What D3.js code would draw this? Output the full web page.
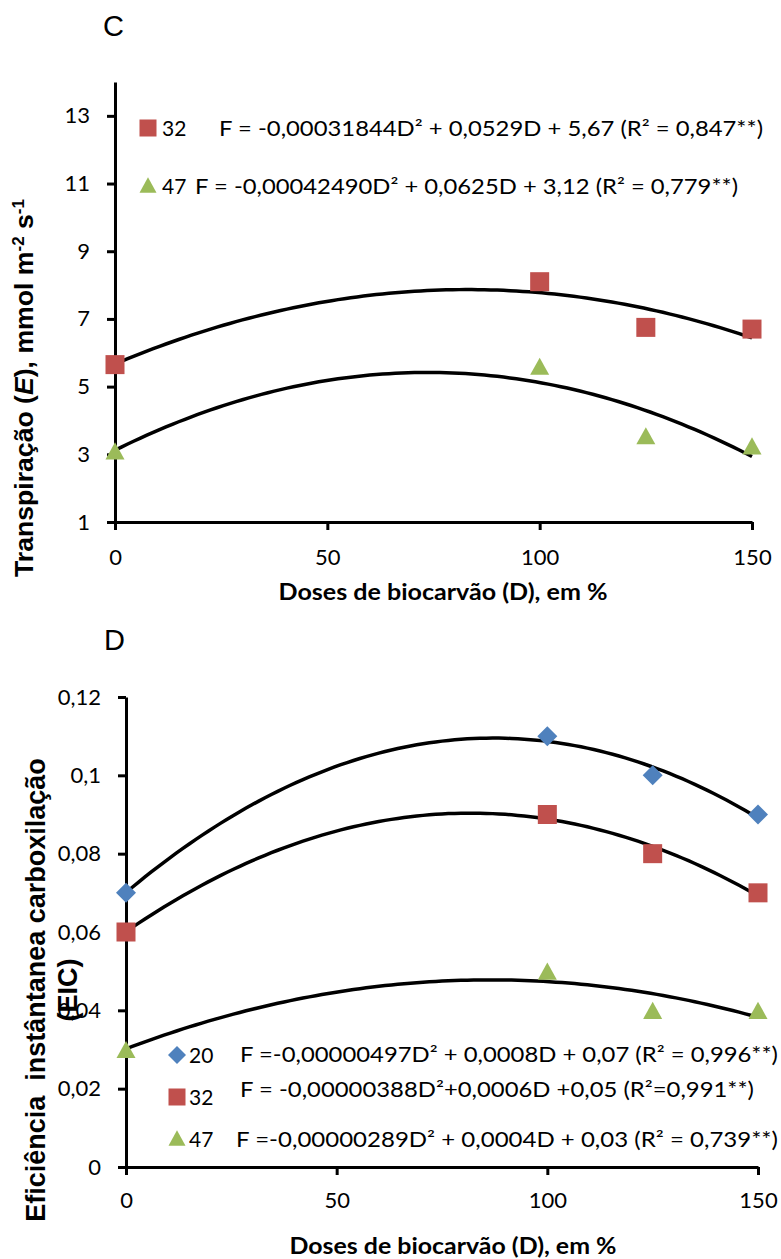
<!DOCTYPE html>
<meta charset="utf-8">
<style>
body { margin: 0; background: #fff; }
svg { display: block; }
.axis path, .axis line { stroke: #000; stroke-width: 3px; }
.axis text { font-family: Lato, sans-serif; font-size: 22px; fill: #000; }
.legend text { font-family: Lato, sans-serif; font-size: 21px; fill: #000; }
.xtitle { font-family: Lato, sans-serif; font-size: 23px; font-weight: bold; }
.ytitle { font-family: "Liberation Sans", Arial, sans-serif; font-size: 25px; font-weight: bold; white-space: pre; }
.panel { font-family: "Liberation Sans", Arial, sans-serif; font-size: 29px; }
.fit { fill: none; stroke: #000; stroke-width: 3.5px; }
</style>
<svg width="781" height="1259"></svg>
<script src="https://d3js.org/d3.v7.min.js"></script>
<script>

// biochar doses (%)
var doses = [0, 100, 125, 150];
var xTicks = [0, 50, 100, 150];

// panel C - transpiration (E)
var transp32 = [5.65, 8.1, 6.75, 6.7];
var transp47 = [3.1, 5.6, 3.55, 3.25];
var coefC32 = [5.67, 0.0529, -0.00031844];
var coefC47 = [3.12, 0.0625, -0.00042490];
var ticksC = [1, 3, 5, 7, 9, 11, 13];
var legendC = ["32", "47"];
var formulaC = [
  "F = -0,00031844D² + 0,0529D + 5,67 (R² = 0,847**)",
  "F = -0,00042490D² + 0,0625D + 3,12 (R² = 0,779**)"
];

// panel D - instantaneous carboxylation efficiency (EIC)
var eic20 = [0.07, 0.11, 0.10, 0.09];
var eic32 = [0.06, 0.09, 0.08, 0.07];
var eic47 = [0.03, 0.05, 0.04, 0.04];
var ticksD = [0, 0.02, 0.04, 0.06, 0.08, 0.1, 0.12];
var legendD = ["20", "32", "47"];
var formulaD = [
  "F =-0,00000497D² + 0,0008D + 0,07 (R² = 0,996**)",
  "F = -0,00000388D²+0,0006D +0,05 (R²=0,991**)",
  "F =-0,00000289D² + 0,0004D + 0,03 (R² = 0,739**)"
];

var colors = { "20": "#4F81BD", "32": "#C0504D", "47": "#9BBB59" };

var svg = d3.select("svg");

// marker shapes, centred on their bounding box
function marker(g, kind, x, y, s) {
  if (kind === "20") {
    var h = s / 2;
    g.append("path").attr("d", "M" + x + "," + (y - h) + "L" + (x + h) + "," + y + "L" + x + "," + (y + h) + "L" + (x - h) + "," + y + "Z")
      .attr("fill", colors[kind]);
  } else if (kind === "32") {
    g.append("rect").attr("x", x - s / 2).attr("y", y - s / 2).attr("width", s).attr("height", s)
      .attr("fill", colors[kind]);
  } else {
    var w = s / 2, t = s * 0.45;
    g.append("path").attr("d", "M" + x + "," + (y - t) + "L" + (x + w) + "," + (y + t) + "L" + (x - w) + "," + (y + t) + "Z")
      .attr("fill", colors[kind]);
  }
}

// least squares quadratic y = a + bx + cx^2
function quadFit(xs, ys) {
  var S = [0, 0, 0, 0, 0], T = [0, 0, 0];
  xs.forEach(function(x, i) {
    for (var k = 0; k < 5; k++) S[k] += Math.pow(x, k);
    for (var k = 0; k < 3; k++) T[k] += ys[i] * Math.pow(x, k);
  });
  var M = [[S[0], S[1], S[2], T[0]], [S[1], S[2], S[3], T[1]], [S[2], S[3], S[4], T[2]]];
  for (var i = 0; i < 3; i++) {
    for (var j = i + 1; j < 3; j++) {
      var f = M[j][i] / M[i][i];
      for (var k = i; k < 4; k++) M[j][k] -= f * M[i][k];
    }
  }
  var c = [0, 0, 0];
  for (var i = 2; i >= 0; i--) {
    var s = M[i][3];
    for (var k = i + 1; k < 3; k++) s -= M[i][k] * c[k];
    c[i] = s / M[i][i];
  }
  return c;
}

function poly(c) { return function(d) { return c[0] + c[1] * d + c[2] * d * d; }; }

function drawPanel(o) {
  var x = d3.scaleLinear().domain([0, 150]).range(o.xRange);
  var y = d3.scaleLinear().domain(o.yDomain).range(o.yRange);
  var g = svg.append("g");

  g.append("g").attr("class", "axis")
      .attr("transform", "translate(" + o.xRange[0] + ",0)")
      .call(d3.axisLeft(y).tickValues(o.yTicks).tickSize(8).tickSizeOuter(0).tickPadding(17).tickFormat(o.fmt));

  g.append("g").attr("class", "axis")
      .attr("transform", "translate(0," + o.yRange[0] + ")")
      .call(d3.axisBottom(x).tickValues(xTicks).tickSize(8).tickSizeOuter(0))
    .selectAll("text").attr("dy", "0").attr("y", o.xLabelY);

  var sample = d3.range(0, 150.01, 1.5);
  var line = d3.line().x(function(d) { return x(d[0]); }).y(function(d) { return y(d[1]); });

  o.series.forEach(function(s) {
    var f = poly(s.coef);
    g.append("path").attr("class", "fit")
        .attr("d", line(sample.map(function(d) { return [d, f(d)]; })));
  });
  o.series.forEach(function(s) {
    doses.forEach(function(d, i) { marker(g, s.key, x(d), y(s.values[i]), s.key === "20" ? 20 : 19); });
  });
  return g;
}

// ---- panel C ----
drawPanel({
  xRange: [115, 752], yDomain: [1, 14], yRange: [522, 82],
  yTicks: ticksC, fmt: d3.format("d"), xLabelY: 43,
  series: [
    { key: "32", values: transp32, coef: coefC32 },
    { key: "47", values: transp47, coef: coefC47 }
  ]
});

// ---- panel D (trend lines fitted to the points) ----
drawPanel({
  xRange: [126, 758], yDomain: [0, 0.12], yRange: [1167, 697],
  yTicks: ticksD, fmt: function(d) { return String(d).replace(".", ","); }, xLabelY: 41,
  series: [
    { key: "20", values: eic20, coef: quadFit(doses, eic20) },
    { key: "32", values: eic32, coef: quadFit(doses, eic32) },
    { key: "47", values: eic47, coef: quadFit(doses, eic47) }
  ]
});

// legends
var legC = svg.append("g").attr("class", "legend");
var rowsC = [
  { my: 128, ty: 136, fx: 219, fw: 544 },
  { my: 185, ty: 194, fx: 195, fw: 543 }
];
legendC.forEach(function(k, i) {
  var r = rowsC[i];
  marker(legC, k, 148, r.my, 17);
  legC.append("text").attr("x", 162).attr("y", r.ty).text(k);
  legC.append("text").attr("x", r.fx).attr("y", r.ty)
      .attr("textLength", r.fw).attr("lengthAdjust", "spacingAndGlyphs").text(formulaC[i]);
});

var legD = svg.append("g").attr("class", "legend");
var rowsD = [
  { my: 1055, ky: 1063, fy: 1062, fx: 240, fw: 538 },
  { my: 1097, ky: 1105, fy: 1097, fx: 240, fw: 514 },
  { my: 1138, ky: 1147, fy: 1147, fx: 236, fw: 542 }
];
legendD.forEach(function(k, i) {
  var r = rowsD[i];
  marker(legD, k, 177, r.my, k === "20" ? 18 : 17);
  legD.append("text").attr("x", 189).attr("y", r.ky).text(k);
  legD.append("text").attr("x", r.fx).attr("y", r.fy)
      .attr("textLength", r.fw).attr("lengthAdjust", "spacingAndGlyphs").text(formulaD[i]);
});

// titles
svg.append("text").attr("class", "panel").attr("x", 103).attr("y", 36).text("C");
svg.append("text").attr("class", "panel").attr("x", 104).attr("y", 650).text("D");

svg.append("text").attr("class", "xtitle").attr("x", 443).attr("y", 600)
    .attr("text-anchor", "middle").attr("textLength", 329).attr("lengthAdjust", "spacingAndGlyphs")
    .text("Doses de biocarvão (D), em %");
svg.append("text").attr("class", "xtitle").attr("x", 453).attr("y", 1254)
    .attr("text-anchor", "middle").attr("textLength", 327).attr("lengthAdjust", "spacingAndGlyphs")
    .text("Doses de biocarvão (D), em %");

var ty = svg.append("text").attr("class", "ytitle")
    .attr("transform", "translate(33,388) rotate(-90)").attr("text-anchor", "middle")
    .attr("textLength", 378).attr("lengthAdjust", "spacingAndGlyphs");
ty.append("tspan").text("Transpiração (");
ty.append("tspan").style("font-style", "italic").text("E");
ty.append("tspan").text("), mmol m");
ty.append("tspan").attr("dy", -9).style("font-size", "16px").text("-2");
ty.append("tspan").attr("dy", 9).text(" s");
ty.append("tspan").attr("dy", -9).style("font-size", "16px").text("-1");

svg.append("text").attr("class", "ytitle").style("font-size", "27px")
    .attr("transform", "translate(45,990) rotate(-90)").attr("text-anchor", "middle")
    .text("Eficiência  instântanea carboxilação");
svg.append("text").attr("class", "ytitle").style("font-size", "27px")
    .attr("transform", "translate(77,990) rotate(-90)").attr("text-anchor", "middle")
    .text("(EIC)");

</script>
